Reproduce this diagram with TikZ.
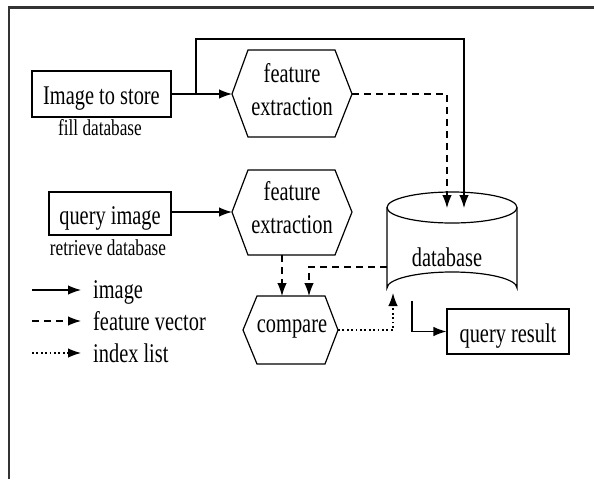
\documentclass[tikz,border=0pt]{standalone}
\usepackage{fontspec}
\setmainfont{Liberation Serif}[FakeStretch=0.755]
\usetikzlibrary{arrows.meta}
\begin{document}
\begin{tikzpicture}[x=1pt,y=-1pt,
  big/.style={font=\fontsize{27}{33}\selectfont},
  small/.style={font=\fontsize{22.8}{24}\selectfont},
  box/.style={draw, line width=1.2pt, inner sep=0pt, big, text height=22pt, text depth=1pt},
  hexa/.style={draw, line width=1.2pt, line join=miter},
  txt/.style={inner sep=0pt, anchor=base},
  img/.style={line width=1.2pt, -{Latex[length=13pt,width=9.5pt]}},
  fv/.style={img, dash pattern=on 7pt off 5pt},
  il/.style={img, dash pattern=on 1.8pt off 2.6pt}]
\useasboundingbox (0,0) rectangle (594,479);
% frame
\draw[line width=2.2pt, black!80] (9,479) -- (9,7.5) -- (594,7.5);

% boxes
\node[box, minimum width=139pt, minimum height=46pt] (isbox) at (101.5,94) {Image to store};
\node[txt, small] (fill) at (100,135.5) {fill database};
\node[box, minimum width=122pt, minimum height=43pt] (qbox) at (110,213.5) {query image};
\node[txt, small] (retr) at (108,255) {retrieve database};
\node[box, minimum width=122pt, minimum height=45pt] (qres) at (508,331.5) {query result};

% hexagons
\draw[hexa] (232,94) -- (248,50) -- (335,50) -- (352,94) -- (335,137) -- (248,137) -- cycle;
\draw[hexa] (232,212) -- (248,170) -- (335,170) -- (352,212) -- (335,255) -- (248,255) -- cycle;
\draw[hexa] (243,330) -- (257,296) -- (325,296) -- (338,330) -- (325,364) -- (257,364) -- cycle;
\node[txt, big, align=center] (fe1) at (292,115) {feature\\extraction};
\node[txt, big, align=center] (fe2) at (292,233) {feature\\extraction};
\node[txt, big] (cmp) at (292,332) {compare};
\coordinate (fe1w) at (232,94);
\coordinate (fe1e) at (352,94);
\coordinate (fe2w) at (232,212);
\coordinate (fe2s) at (282,255);
\coordinate (cmpn1) at (282,296);
\coordinate (cmpn2) at (309,296);
\coordinate (cmpe) at (338,330);

% database cylinder
\draw[line width=1.2pt] (452,207.5) ellipse [x radius=65, y radius=15.5];
\draw[line width=1.2pt] (387,207.5) -- (387,288) arc [start angle=180, end angle=360, x radius=65, y radius=16] -- (517,207.5);
\node[txt, big] (db) at (447,266) {database};
\coordinate (dbt1) at (447,208);
\coordinate (dbt2) at (464,208);
\coordinate (dbw) at (387,267);
\coordinate (dbb1) at (393,293);
\coordinate (dbb2) at (412,300.5);

% connectors
\coordinate (br) at (196,94);
\draw[img] (isbox.east) -- (fe1w);
\draw[img] (br) -- (196,39) -- (464,39) -- (dbt2);
\draw[fv] (fe1e) -| (dbt1);
\draw[img] (qbox.east |- fe2w) -- (fe2w);
\draw[fv] (fe2s) -- (cmpn1);
\draw[fv] (dbw) -| (cmpn2);
\draw[il] (cmpe) -| (dbb1);
\draw[img] (dbb2) |- (qres.west);

% legend
\coordinate (l1a) at (32,290); \coordinate (l1b) at (81,290);
\coordinate (l2a) at (32,321); \coordinate (l2b) at (81,321);
\coordinate (l3a) at (32,353); \coordinate (l3b) at (81,353);
\draw[img] (l1a) -- (l1b);
\draw[fv] (l2a) -- (l2b);
\draw[il] (l3a) -- (l3b);
\node[txt, big, anchor=base west] (lg1) at (93,298) {image};
\node[txt, big, anchor=base west] (lg2) at (93,330) {feature vector};
\node[txt, big, anchor=base west] (lg3) at (93,362) {index list};
\end{tikzpicture}
\end{document}
